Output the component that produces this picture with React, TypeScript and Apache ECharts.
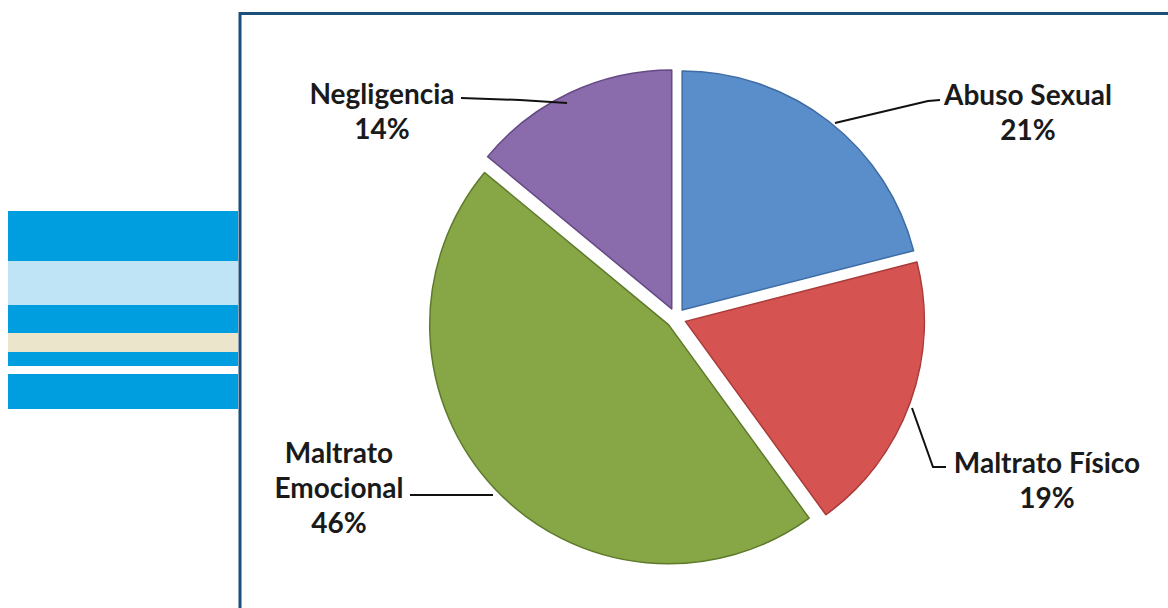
import React, { useEffect, useRef } from "react";
import * as echarts from "echarts";

const categories = ["Abuso Sexual", "Maltrato Físico", "Maltrato Emocional", "Negligencia"];
const values = [21, 19, 46, 14];
const labelTexts = ["Abuso Sexual", "Maltrato Físico", "Maltrato\nEmocional", "Negligencia"];
const sliceColors = ["#5A8ECB", "#D55452", "#87A645", "#8A6BAB"];
const sliceBorders = ["#3F6CA3", "#A83A38", "#5E7A2C", "#654A85"];

// label placement (layout only)
const labelCenters: [number, number][] = [
  [1028, 111],
  [1047, 479],
  [339, 487],
  [382, 110],
];
const labelLinePts: [number, number][][] = [
  [[835, 123], [928, 101], [940, 100]],
  [[912, 408], [933, 467], [946, 467]],
  [[493, 495], [470, 495], [410, 495]],
  [[567, 103], [520, 100], [461, 98]],
];

const stripes: { y: number; h: number; c: string }[] = [
  { y: 211, h: 50, c: "#009DDF" },
  { y: 261, h: 44, c: "#BEE4F6" },
  { y: 305, h: 28, c: "#009DDF" },
  { y: 333, h: 19, c: "#EBE6CB" },
  { y: 352, h: 14, c: "#009DDF" },
  { y: 374, h: 35, c: "#009DDF" },
];

export default function App() {
  const ref = useRef<HTMLDivElement>(null);
  useEffect(() => {
    if (!ref.current) return;
    const chart = echarts.init(ref.current, null, { renderer: "svg" });
    const graphics: any[] = stripes.map((s) => ({
      type: "rect",
      shape: { x: 8, y: s.y, width: 230, height: s.h },
      style: { fill: s.c },
      silent: true,
    }));
    graphics.push({
      type: "rect",
      shape: { x: 240, y: 13.5, width: 1000, height: 700 },
      style: { fill: "none", stroke: "#1B4F7A", lineWidth: 3 },
      silent: true,
    });
    categories.forEach((_, i) => {
      graphics.push({
        type: "polyline",
        shape: { points: labelLinePts[i] },
        style: { stroke: "#111", lineWidth: 2, fill: "none" },
        silent: true,
        z: 10,
      });
      graphics.push({
        type: "text",
        x: labelCenters[i][0],
        y: labelCenters[i][1],
        style: {
          text: `${labelTexts[i]}\n${values[i]}%`,
          fontFamily: "Lato",
          fontWeight: "bold",
          fontSize: 28,
          lineHeight: 35,
          fill: "#1a1a1a",
          align: "center",
          verticalAlign: "middle",
        },
        silent: true,
        z: 10,
      });
    });
    chart.setOption({
      animation: false,
      backgroundColor: "#ffffff",
      graphic: graphics,
      series: [
        {
          type: "pie",
          center: [676, 318],
          radius: 239,
          startAngle: 90,
          clockwise: true,
          selectedMode: "multiple",
          selectedOffset: 10,
          avoidLabelOverlap: false,
          data: categories.map((name, i) => ({
            name,
            value: values[i],
            selected: true,
            itemStyle: {
              color: sliceColors[i],
              borderColor: sliceBorders[i],
              borderWidth: 1.5,
            },
          })),
          label: { show: false },
          labelLine: { show: false },
          emphasis: { disabled: true },
        },
      ],
    });
    return () => chart.dispose();
  }, []);
  return (
    <div
      ref={ref}
      style={{ position: "fixed", left: 0, top: 0, width: 1168, height: 608 }}
    />
  );
}
